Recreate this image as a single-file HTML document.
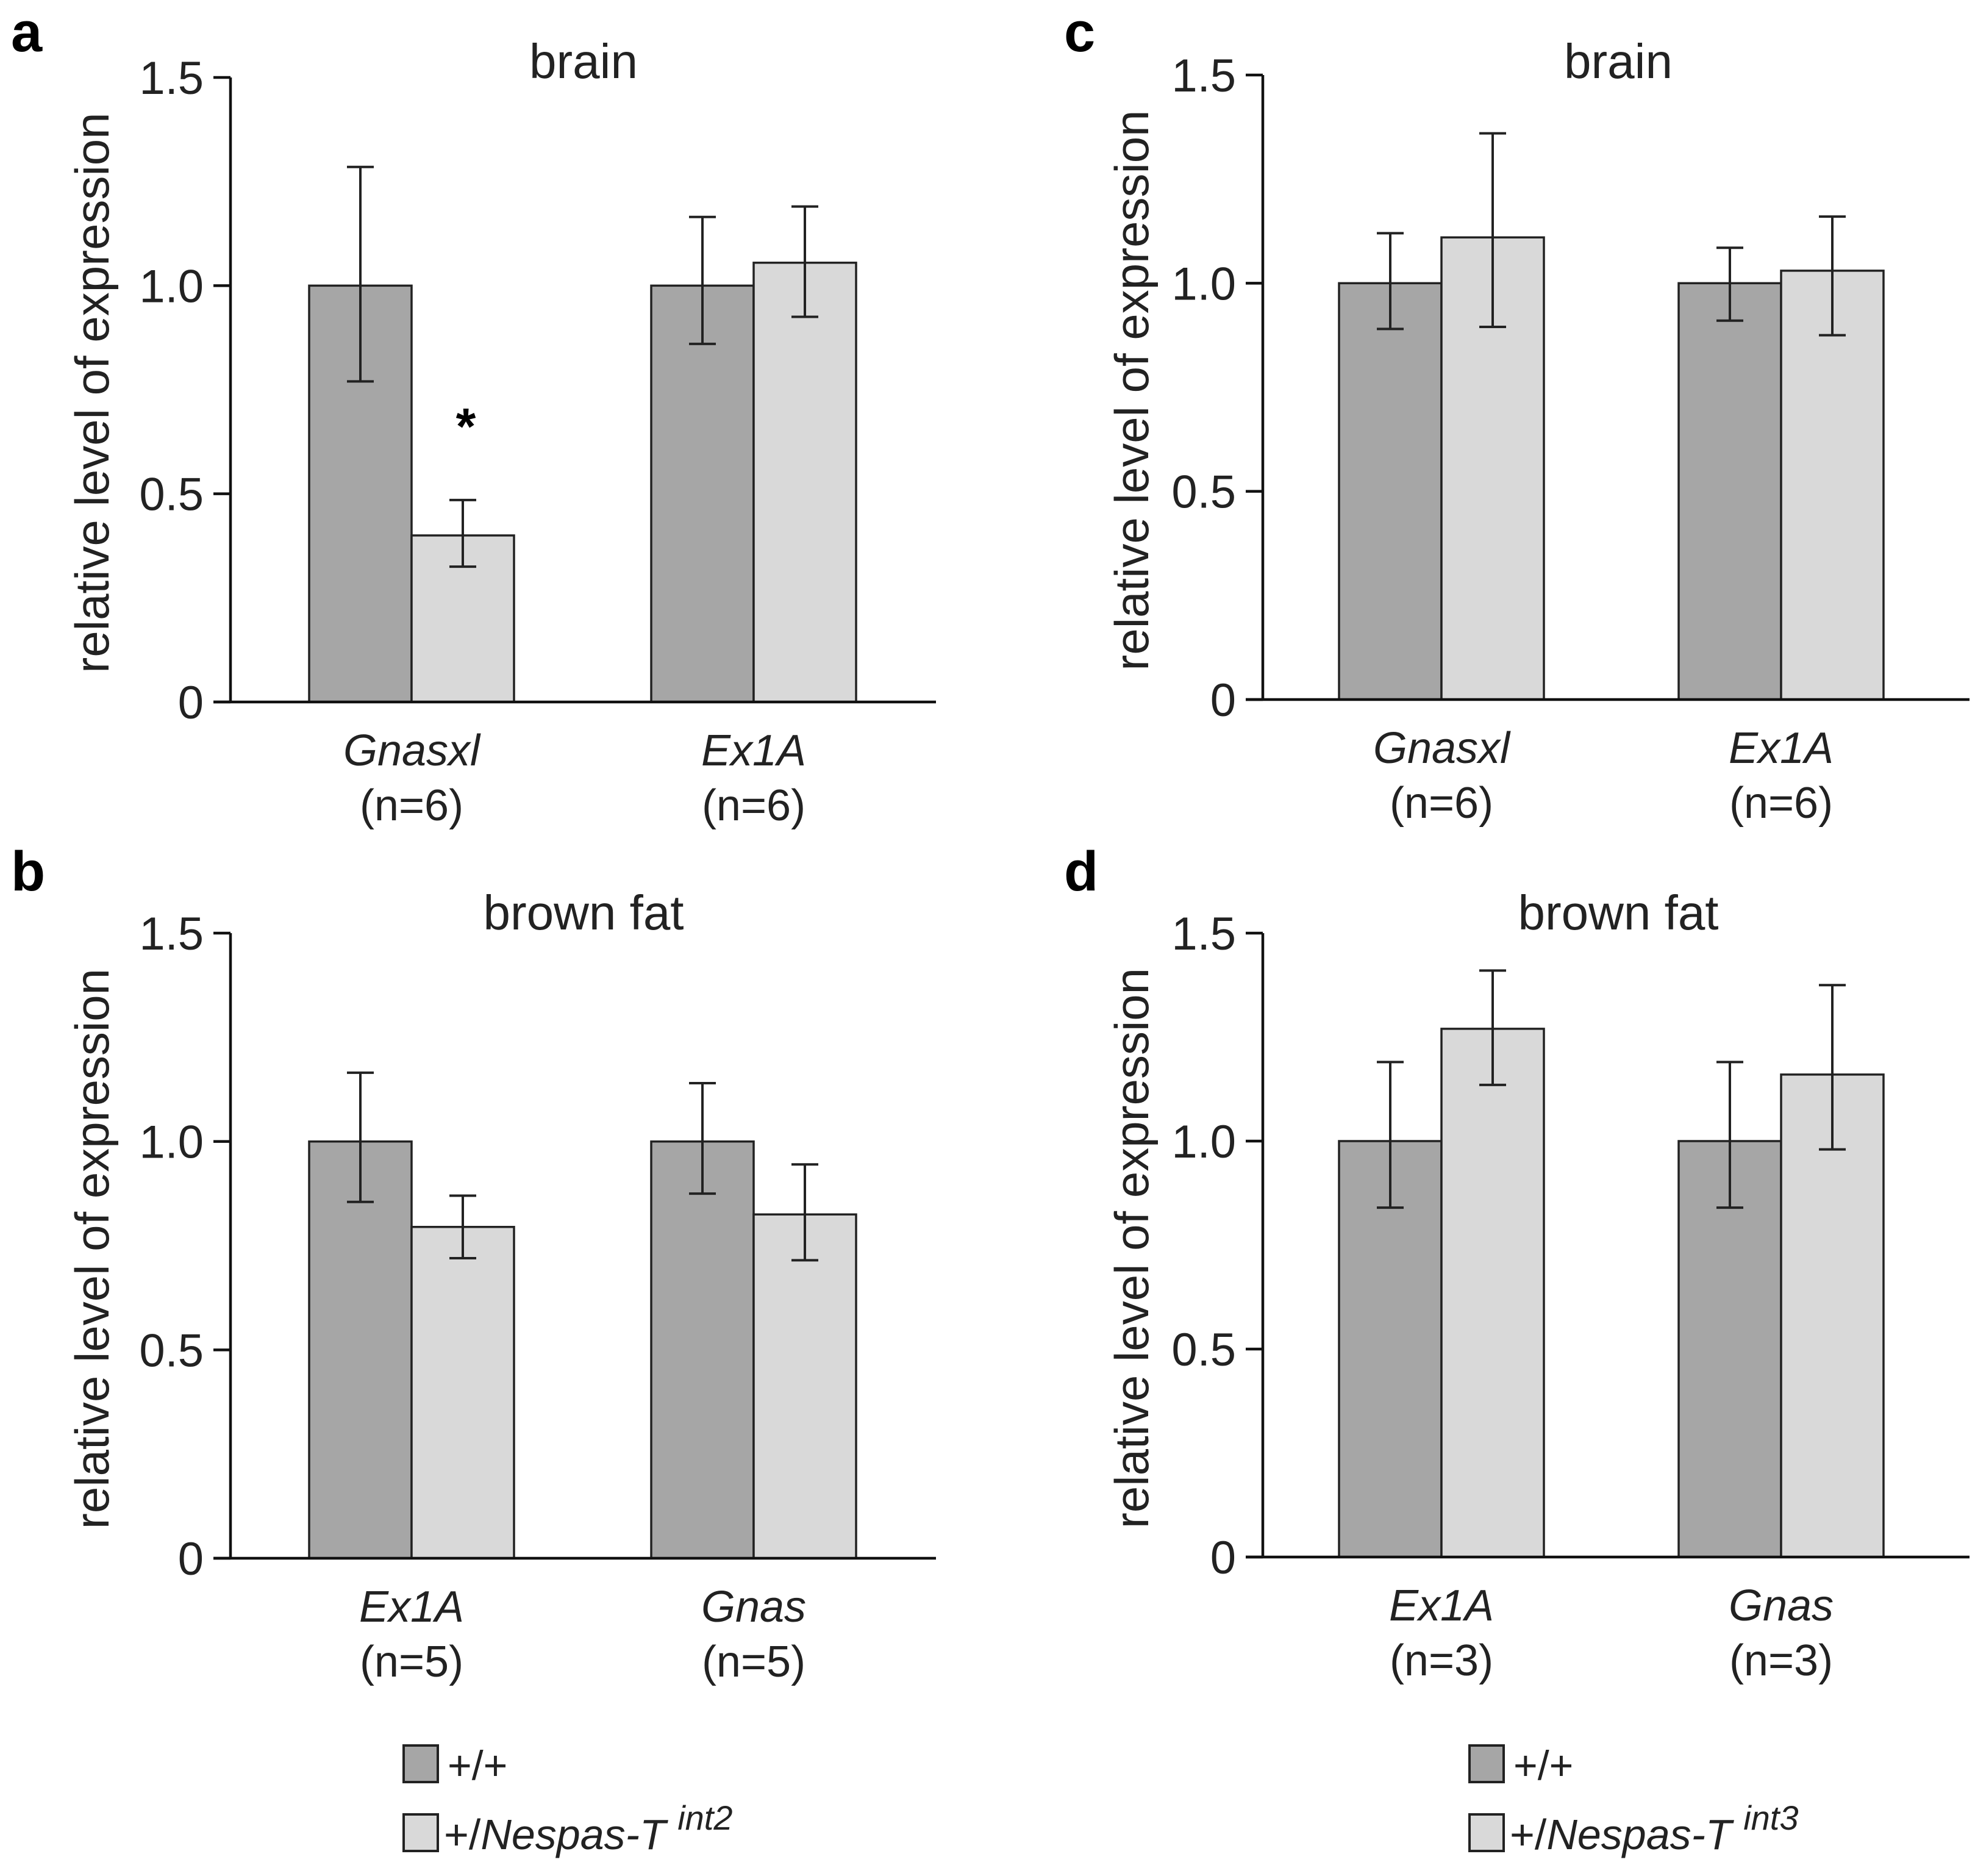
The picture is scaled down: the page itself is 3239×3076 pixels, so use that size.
<!DOCTYPE html>
<html><head><meta charset="utf-8"><style>
html,body{margin:0;padding:0;background:#fff;}
svg{display:block;font-family:"Liberation Sans",Arial,sans-serif;}
</style></head><body>
<svg id="fig" width="3239" height="3076" viewBox="0 0 3239 3076" xmlns="http://www.w3.org/2000/svg"></svg>
<script>
// ---- data ----
const panelLetters = ["a","b","c","d"];
const panelTitles = ["brain","brown fat","brain","brown fat"];
const categoriesA = ["Gnasxl","Ex1A"];
const categoriesB = ["Ex1A","Gnas"];
const categoriesC = ["Gnasxl","Ex1A"];
const categoriesD = ["Ex1A","Gnas"];
const nLabelsA = ["(n=6)","(n=6)"];
const nLabelsB = ["(n=5)","(n=5)"];
const nLabelsC = ["(n=6)","(n=6)"];
const nLabelsD = ["(n=3)","(n=3)"];
const wtA = [1.0,1.0];   const wtLoA=[0.77,0.86];  const wtHiA=[1.285,1.165];
const mutA = [0.40,1.055]; const mutLoA=[0.325,0.925]; const mutHiA=[0.485,1.19];
const wtB = [1.0,1.0];   const wtLoB=[0.855,0.875]; const wtHiB=[1.165,1.14];
const mutB = [0.795,0.825]; const mutLoB=[0.72,0.715]; const mutHiB=[0.87,0.945];
const wtC = [1.0,1.0];   const wtLoC=[0.89,0.91];  const wtHiC=[1.12,1.085];
const mutC = [1.11,1.03]; const mutLoC=[0.895,0.875]; const mutHiC=[1.36,1.16];
const wtD = [1.0,1.0];   const wtLoD=[0.84,0.84];  const wtHiD=[1.19,1.19];
const mutD = [1.27,1.16]; const mutLoD=[1.135,0.98]; const mutHiD=[1.41,1.375];
const yTicks = [0,0.5,1.0,1.5];
const yTickLabels = ["0","0.5","1.0","1.5"];

const NS="http://www.w3.org/2000/svg";
const svg=document.getElementById('fig');
function mk(tag,attrs,parent){const e=document.createElementNS(NS,tag);for(const k in attrs)e.setAttribute(k,attrs[k]);(parent||svg).appendChild(e);return e;}

const layouts=[
 {ax:378,x1:1535,y0:1151,y15:127,bars:[507,1068],lx:150,tx:957,ty:104,lettX:18,lettY:84},
 {ax:378,x1:1535,y0:2555,y15:1530,bars:[507,1068],lx:150,tx:957,ty:1500,lettX:18,lettY:1460},
 {ax:2071,x1:3230,y0:1147,y15:123,bars:[2196,2753],lx:1855,tx:2654,ty:104,lettX:1745,lettY:84},
 {ax:2071,x1:3230,y0:2553,y15:1530,bars:[2196,2753],lx:1855,tx:2654,ty:1500,lettX:1745,lettY:1460}
];
const cats=[categoriesA,categoriesB,categoriesC,categoriesD];
const ns=[nLabelsA,nLabelsB,nLabelsC,nLabelsD];
const wt=[wtA,wtB,wtC,wtD],wtLo=[wtLoA,wtLoB,wtLoC,wtLoD],wtHi=[wtHiA,wtHiB,wtHiC,wtHiD];
const mu=[mutA,mutB,mutC,mutD],muLo=[mutLoA,mutLoB,mutLoC,mutLoD],muHi=[mutHiA,mutHiB,mutHiC,mutHiD];
const BW=168;

layouts.forEach((L,p)=>{
  const g=mk('g',{});
  
  
  const y=v=>L.y0-(L.y0-L.y15)*v/1.5;
  const lt=mk('text',{x:L.lettX,y:L.lettY,'font-size':92,'font-weight':'bold'},g);lt.textContent=panelLetters[p];
  
  const tt=mk('text',{x:L.tx,y:L.ty+24,'font-size':80,'text-anchor':'middle',fill:'#222'},g);tt.textContent=panelTitles[p];
  
  const yl=mk('text',{x:0,y:0,'font-size':78,'text-anchor':'middle',fill:'#222',transform:`translate(${L.lx+28},${(L.y0+L.y15)/2+5}) rotate(-90)`},g);
  yl.textContent='relative level of expression';
  
  for(let i=0;i<2;i++){
    const bx=L.bars[i];
    const series=[[wt[p][i],wtLo[p][i],wtHi[p][i],'#a6a6a6'],[mu[p][i],muLo[p][i],muHi[p][i],'#d9d9d9']];
    series.forEach((s,j)=>{
      const x=bx+j*BW;
      const r=mk('rect',{x:x,y:y(s[0]),width:BW,height:L.y0-y(s[0]),fill:s[3],stroke:'#222','stroke-width':3.5},g);
      
      
      const cx=x+BW/2;
      const e=mk('path',{d:`M${cx},${y(s[1])}V${y(s[2])}M${cx-22},${y(s[1])}H${cx+22}M${cx-22},${y(s[2])}H${cx+22}`,stroke:'#222','stroke-width':4,fill:'none'},g);
      
      
    });
    const cl=mk('text',{x:bx+BW,y:L.y0+104,'font-size':72,'font-style':'italic','text-anchor':'middle',fill:'#222'},g);
    cl.textContent=cats[p][i];
    
    const nl=mk('text',{x:bx+BW,y:L.y0+194,'font-size':72,'text-anchor':'middle',fill:'#222'},g);
    nl.textContent=ns[p][i];
    
  }
  const ax=mk('path',{d:`M${L.ax},${L.y15}V${L.y0}M${L.ax-28},${L.y0}H${L.x1}`,stroke:'#111','stroke-width':4.5,fill:'none'},g);
  
  yTicks.forEach((t,k)=>{
    const tk=mk('line',{x1:L.ax-28,x2:L.ax,y1:y(t),y2:y(t),stroke:'#111','stroke-width':4.5},g);
    
    const tl=mk('text',{x:L.ax-44,y:y(t)+27,'font-size':76,'text-anchor':'end',fill:'#222'},g);
    tl.textContent=yTickLabels[k];
    
  });
  if(p===0){
    const st=mk('text',{x:764,y:728,'font-size':84,'font-weight':'bold','text-anchor':'middle'},g);
    st.textContent='*';
    
  }
});

[[662,'int2'],[2410,'int3']].forEach((lg,k)=>{
  const g=mk('g',{});
  
  
  const x=lg[0];
  const r1=mk('rect',{x:x,y:2862,width:56,height:60,fill:'#a6a6a6',stroke:'#222','stroke-width':4},g);
  
  const t1=mk('text',{x:x+72,y:2918,'font-size':68,fill:'#222'},g);t1.textContent='+/+';
  
  const r2=mk('rect',{x:x,y:2975,width:56,height:60,fill:'#d9d9d9',stroke:'#222','stroke-width':4},g);
  
  const t2=mk('text',{x:x+66,y:3032,'font-size':70,fill:'#222'},g);
  
  const a=mk('tspan',{},t2);a.textContent='+/';
  const b=mk('tspan',{'font-style':'italic'},t2);b.textContent='Nespas-T ';
  const c=mk('tspan',{'font-style':'italic','font-size':56,dy:-32},t2);c.textContent=lg[1];
});
</script>
</body></html>
